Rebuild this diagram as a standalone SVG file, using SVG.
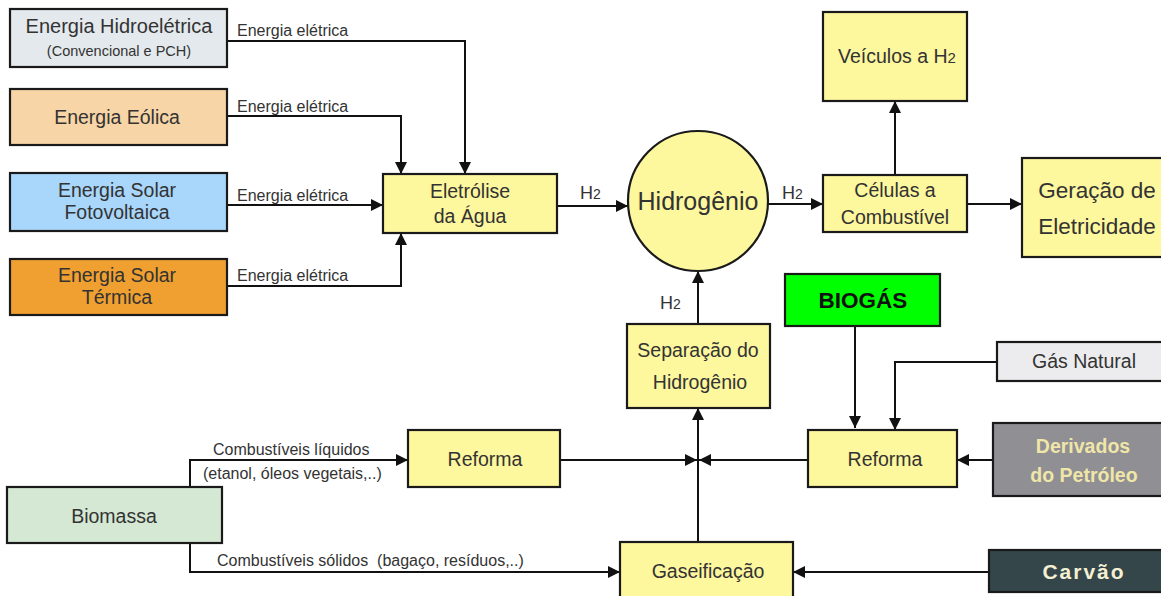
<svg xmlns="http://www.w3.org/2000/svg" width="1161" height="596" viewBox="0 0 1161 596">
<style>
text{font-family:"Liberation Sans",Arial,sans-serif;fill:#333;text-anchor:middle}
.box{stroke:#1a1a1a;stroke-width:2.2}
.y{fill:#fdf79e}
.c{fill:none;stroke:#111;stroke-width:2}
.lbl{font-size:16px;text-anchor:start}
.n{font-size:19.5px}
.h2{font-size:18px;text-anchor:start}
.s{font-size:14px}
</style>
<defs>
<marker id="a" viewBox="0 0 12 12" refX="12" refY="6" markerWidth="12" markerHeight="12" markerUnits="userSpaceOnUse" orient="auto">
<path d="M0,0 L12,6 L0,12 z" fill="#111"/>
</marker>
</defs>
<g id="connectors">
<path class="c" d="M227,41 H465 V174" marker-end="url(#a)"/>
<path class="c" d="M227,116 H401 V174" marker-end="url(#a)"/>
<path class="c" d="M227,205 H383" marker-end="url(#a)"/>
<path class="c" d="M227,286 H401 V233" marker-end="url(#a)"/>
<path class="c" d="M557,206 H628" marker-end="url(#a)"/>
<path class="c" d="M768,204 H823" marker-end="url(#a)"/>
<path class="c" d="M895,175 V101" marker-end="url(#a)"/>
<path class="c" d="M967,204 H1022" marker-end="url(#a)"/>
<path class="c" d="M698,324 V271" marker-end="url(#a)"/>
<path class="c" d="M855,326 V428" marker-end="url(#a)"/>
<path class="c" d="M997,362 H895 V430" marker-end="url(#a)"/>
<path class="c" d="M993,460 H957" marker-end="url(#a)"/>
<path class="c" d="M808,460 H699" marker-end="url(#a)"/>
<path class="c" d="M560,460 H697" marker-end="url(#a)"/>
<path class="c" d="M698,542 V408" marker-end="url(#a)"/>
<path class="c" d="M190,487 V460 H408" marker-end="url(#a)"/>
<path class="c" d="M190,543 V572 H620" marker-end="url(#a)"/>
<path class="c" d="M990,572 H793" marker-end="url(#a)"/>
<text class="lbl" x="237" y="36">Energia elétrica</text>
<text class="lbl" x="237" y="112">Energia elétrica</text>
<text class="lbl" x="237" y="201">Energia elétrica</text>
<text class="lbl" x="237" y="281">Energia elétrica</text>
<text class="h2" x="580" y="199">H<tspan class="s">2</tspan></text>
<text class="h2" x="782" y="199">H<tspan class="s">2</tspan></text>
<text class="h2" x="660" y="309">H<tspan class="s">2</tspan></text>
<text class="lbl" x="213" y="455">Combustíveis líquidos</text>
<text class="lbl" x="203" y="479">(etanol, óleos vegetais,..)</text>
<text class="lbl" x="217" y="566">Combustíveis sólidos&#160; (bagaço, resíduos,..)</text>
</g>
<g id="hidro">
<rect class="box" x="10" y="9" width="217" height="58" fill="#e3e9ec"/>
<text x="119" y="33" font-size="20">Energia Hidroelétrica</text>
<text x="119" y="56" font-size="14.5">(Convencional e PCH)</text>
</g>
<g id="eolica">
<rect class="box" x="10" y="89" width="217" height="56" fill="#f8d5a6"/>
<text class="n" x="117" y="124" font-size="20">Energia Eólica</text>
</g>
<g id="fotovoltaica">
<rect class="box" x="10" y="173" width="217" height="58" fill="#a9d6fb"/>
<text class="n" x="117" y="197">Energia Solar</text>
<text class="n" x="117" y="219">Fotovoltaica</text>
</g>
<g id="termica">
<rect class="box" x="10" y="259" width="217" height="56" fill="#f0a030"/>
<text class="n" x="117" y="282">Energia Solar</text>
<text class="n" x="117" y="304">Térmica</text>
</g>
<g id="eletrolise">
<rect class="box y" x="383" y="174" width="174" height="59"/>
<text class="n" x="470" y="198">Eletrólise</text>
<text class="n" x="470" y="223">da Água</text>
</g>
<g id="hidrogenio">
<circle class="box y" cx="698" cy="201" r="70"/>
<text x="698" y="210" font-size="25">Hidrogênio</text>
</g>
<g id="veiculos">
<rect class="box y" x="823" y="12" width="144" height="89"/>
<text class="n" x="897" y="63">Veículos a H<tspan font-size="15">2</tspan></text>
</g>
<g id="celulas">
<rect class="box y" x="823" y="175" width="144" height="57"/>
<text class="n" x="895" y="197">Células a</text>
<text class="n" x="895" y="224">Combustível</text>
</g>
<g id="geracao">
<rect class="box y" x="1022" y="158" width="150" height="99"/>
<text x="1097" y="198" font-size="22.5">Geração de</text>
<text x="1097" y="234" font-size="22.5">Eletricidade</text>
</g>
<g id="separacao">
<rect class="box y" x="627" y="324" width="143" height="84"/>
<text class="n" x="698" y="357">Separação do</text>
<text class="n" x="700" y="389">Hidrogênio</text>
</g>
<g id="biogas">
<rect class="box" x="785" y="274" width="155" height="52" fill="#00ff00" stroke-width="3"/>
<text x="863" y="308" font-size="22.5" font-weight="bold" style="fill:#111">BIOGÁS</text>
</g>
<g id="gas-natural">
<rect class="box" x="997" y="342" width="166" height="39" fill="#ececee"/>
<text class="n" x="1084" y="368">Gás Natural</text>
</g>
<g id="reforma-direita">
<rect class="box y" x="808" y="430" width="149" height="57"/>
<text class="n" x="885" y="466">Reforma</text>
</g>
<g id="derivados">
<rect class="box" x="993" y="423" width="172" height="73" fill="#8f8f94"/>
<text x="1083" y="453" font-size="19.5" font-weight="bold" style="fill:#efe6a8">Derivados</text>
<text x="1084" y="482" font-size="19.5" font-weight="bold" style="fill:#efe6a8">do Petróleo</text>
</g>
<g id="reforma-esquerda">
<rect class="box y" x="408" y="430" width="152" height="57"/>
<text class="n" x="485" y="466">Reforma</text>
</g>
<g id="biomassa">
<rect class="box" x="7" y="487" width="215" height="56" fill="#d5e8d4"/>
<text class="n" x="114" y="523">Biomassa</text>
</g>
<g id="gaseificacao">
<rect class="box y" x="620" y="542" width="173" height="60"/>
<text class="n" x="708" y="578">Gaseificação</text>
</g>
<g id="carvao">
<rect class="box" x="989" y="550" width="176" height="42" fill="#344649"/>
<text x="1084" y="579" font-size="21" font-weight="bold" letter-spacing="2" style="fill:#f5f0d4">Carvão</text>
</g>
</svg>
